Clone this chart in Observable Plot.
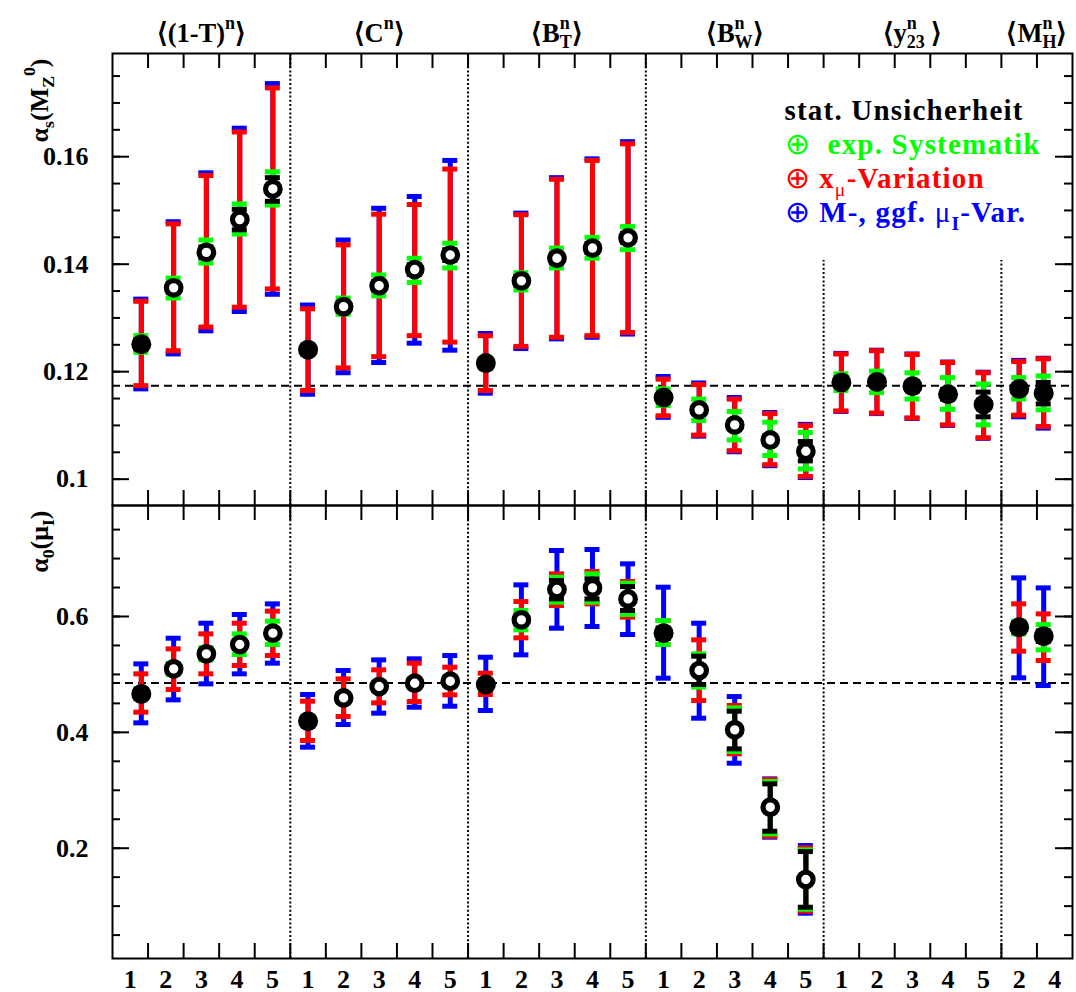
<!DOCTYPE html>
<html><head><meta charset="utf-8">
<script src="https://cdn.jsdelivr.net/npm/d3@7"></script>
<script src="https://cdn.jsdelivr.net/npm/@observablehq/plot@0.6"></script>
<style>
body { margin: 0; background: #fff; }
#chart svg { display: block; }
</style></head>
<body><div id="chart"></div>
<script>
// ---------------- data ----------------
const groupLabels = ["⟨(1-T)^{n}⟩", "⟨C^{n}⟩", "⟨B_{T}~^{n}⟩", "⟨B_{W}~^{n}⟩", "⟨y_{23}~^{n} ⟩", "⟨M_{H}~^{n}⟩"];
const groupMoments = [[1,2,3,4,5],[1,2,3,4,5],[1,2,3,4,5],[1,2,3,4,5],[1,2,3,4,5],[2,4]];
// horizontal offset of each point from its bin centre (in bins)
const pointShift = [0.31,0.22,0.14,0.08,0.01, 0,0,0,0,0, 0,0,0,0,0, 0,0,0,0,0, 0,0,0,0,0, 0,-0.31];

// upper panel: alpha_s(M_Z0)
const topValue = [0.1251,0.1356,0.1422,0.1483,0.1540, 0.1241,0.1321,0.1360,0.1390,0.1417, 0.1216,0.1369,0.1411,0.1430,0.1449, 0.1152,0.1129,0.1101,0.1073,0.1052, 0.1180,0.1181,0.1173,0.1158,0.1139, 0.1168,0.1160];
const topFilled = [1,0,0,0,0, 1,0,0,0,0, 1,0,0,0,0, 1,0,0,0,0, 1,1,1,1,1, 1,1];
const topStat = [[0.1243,0.1259],[0.1348,0.1364],[0.1412,0.1432],[0.1464,0.1502],[0.1517,0.1561], [0.1235,0.1247],[0.1313,0.1329],[0.1352,0.1368],[0.1381,0.1399],[0.1407,0.1427], [0.1210,0.1222],[0.1361,0.1377],[0.1403,0.1419],[0.1422,0.1438],[0.1441,0.1457], [0.1147,0.1157],[0.1123,0.1135],[0.1094,0.1108],[0.1065,0.1081],[0.1034,0.1070], [0.1175,0.1185],[0.1176,0.1186],[0.1167,0.1179],[0.1149,0.1167],[0.1116,0.1162], [0.1163,0.1173],[0.1140,0.1180]];
const topExp = [[0.1236,0.1267],[0.1337,0.1374],[0.1402,0.1445],[0.1456,0.1512],[0.1510,0.1572], [0.1233,0.1249],[0.1307,0.1337],[0.1341,0.1380],[0.1366,0.1411],[0.1393,0.1439], [0.1208,0.1224],[0.1352,0.1384],[0.1393,0.1430],[0.1411,0.1450],[0.1427,0.1470], [0.1137,0.1168],[0.1109,0.1149],[0.1073,0.1126],[0.1044,0.1106],[0.1019,0.1087], [0.1165,0.1196],[0.1161,0.1201],[0.1149,0.1198],[0.1130,0.1189],[0.1101,0.1177], [0.1149,0.1189],[0.1129,0.1192]];
const topXmu = [[0.1174,0.1331],[0.1239,0.1475],[0.1283,0.1565],[0.1320,0.1646],[0.1354,0.1728], [0.1165,0.1317],[0.1207,0.1436],[0.1228,0.1493],[0.1267,0.1511],[0.1255,0.1577], [0.1165,0.1267],[0.1247,0.1492],[0.1264,0.1558],[0.1267,0.1593],[0.1273,0.1624], [0.1118,0.1186],[0.1082,0.1176],[0.1053,0.1149],[0.1027,0.1122],[0.1005,0.1100], [0.1127,0.1233],[0.1123,0.1239],[0.1114,0.1232],[0.1101,0.1217],[0.1077,0.1198], [0.1119,0.1219],[0.1098,0.1224]];
const topMvar = [[0.1168,0.1335],[0.1233,0.1479],[0.1276,0.1570],[0.1312,0.1653],[0.1344,0.1736], [0.1158,0.1324],[0.1198,0.1445],[0.1217,0.1504],[0.1253,0.1526],[0.1240,0.1593], [0.1160,0.1271],[0.1243,0.1495],[0.1261,0.1561],[0.1264,0.1596],[0.1270,0.1628], [0.1115,0.1191],[0.1080,0.1179],[0.1051,0.1152],[0.1025,0.1124],[0.1003,0.1102], [0.1126,0.1234],[0.1122,0.1240],[0.1113,0.1233],[0.1100,0.1218],[0.1076,0.1199], [0.1116,0.1221],[0.1095,0.1225]];
const topRef = 0.1174;
const topDomain = [0.0951, 0.1792];
const topMajor = [0.10, 0.12, 0.14, 0.16];
const topMajorLabels = ["0.1", "0.12", "0.14", "0.16"];
const topMinor = [0.100,0.105,0.110,0.115,0.120,0.125,0.130,0.135,0.140,0.145,0.150,0.155,0.160,0.165,0.170,0.175];

// lower panel: alpha_0(mu_I)
const botValue = [0.4664,0.5096,0.5355,0.5516,0.5712, 0.4193,0.4595,0.4791,0.4848,0.4883, 0.4826,0.5942,0.6466,0.6494,0.6304, 0.5712,0.5067,0.4043,0.2708,0.1459, null,null,null,null,null, 0.5815,0.5660];
const botFilled = [1,0,0,0,0, 1,0,0,0,0, 1,0,0,0,0, 1,0,0,0,0, 0,0,0,0,0, 1,1];
const botStat = [[0.460,0.473],[0.503,0.516],[0.529,0.542],[0.545,0.558],[0.564,0.578], [0.414,0.425],[0.454,0.465],[0.474,0.484],[0.480,0.490],[0.483,0.494], [0.477,0.488],[0.587,0.601],[0.6304,0.6621],[0.6304,0.6650],[0.6103,0.6517], [0.562,0.580],[0.4826,0.5315],[0.3715,0.4365],[0.2293,0.3111],[0.0981,0.1942], null,null,null,null,null, [0.575,0.588],[0.557,0.575]];
const botExp = [[0.458,0.475],[0.500,0.519],[0.525,0.546],[0.5343,0.5700],[0.5516,0.5919], [0.413,0.426],[0.452,0.467],[0.472,0.486],[0.478,0.492],[0.481,0.496], [0.474,0.491],[0.5769,0.6103],[0.6247,0.6678],[0.6247,0.6736],[0.6034,0.6575], [0.5516,0.5930],[0.4780,0.5355],[0.3669,0.4423],[0.2247,0.3151],[0.0947,0.1971], null,null,null,null,null, [0.570,0.5919],[0.5424,0.5861]];
const botXmu = [[0.4348,0.5010],[0.4739,0.5441],[0.5010,0.5700],[0.5154,0.5884],[0.5326,0.6092], [0.3859,0.4538],[0.4273,0.4923],[0.4509,0.5079],[0.4532,0.5194],[0.4647,0.5125], [0.4653,0.5021],[0.5631,0.6258],[0.6189,0.6736],[0.6218,0.6776],[0.5988,0.6604], [0.5516,0.5930],[0.4549,0.5597],[0.3629,0.4463],[0.2207,0.3185],[0.0912,0.2006], null,null,null,null,null, [0.5401,0.6218],[0.5240,0.6045]];
const botMvar = [[0.4164,0.5182],[0.4561,0.5625],[0.4837,0.5884],[0.5010,0.6034],[0.5194,0.6218], [0.3744,0.4653],[0.4135,0.5067],[0.4331,0.5251],[0.4434,0.5269],[0.4451,0.5326], [0.4377,0.5297],[0.5338,0.6546],[0.5798,0.7139],[0.5827,0.7156],[0.5689,0.6909], [0.4935,0.6506],[0.4244,0.5884],[0.3467,0.4618],[0.2190,0.3197],[0.0878,0.2046], null,null,null,null,null, [0.4941,0.6667],[0.4808,0.6494]];
const botRef = 0.485;
const botDomain = [0.0096, 0.7916];
const botMajor = [0.2, 0.4, 0.6];
const botMajorLabels = ["0.2", "0.4", "0.6"];
const botMinor = [0.05,0.10,0.15,0.20,0.25,0.30,0.35,0.40,0.45,0.50,0.55,0.60,0.65,0.70,0.75];

const legendLines = ["stat. Unsicherheit", "!{⊕}  exp. Systematik", "!{⊕} x_!{μ}-Variation", "!{⊕} M-, ggf. !{μ}_{I}-Var."];
const legendColors = ["#000000", "#00ff00", "#ff0000", "#0000ff"];
const topTitle = "α_{s}(M_{Z}^{0})";
const botTitle = "α_{0}(μ_{I})";
const legendBottom = 0.1407; // dividers under the legend box stop here

// ---------------- layout ----------------
const W = 1076, ML = 112, MR = 4;
const FONT = "'Liberation Serif', 'Times New Roman', Times, serif";
const slots = [];
groupMoments.forEach((ms, g) => ms.forEach(n => slots.push({slot: slots.length, group: g, n})));
const nSlots = slots.length;
const slotPx = (W - ML - MR) / nSlots;
const groupEdges = []; let acc = 0;
groupMoments.forEach(ms => { acc += ms.length; groupEdges.push(acc); });
const dividers = groupEdges.slice(0, -1);
const groupCenters = groupMoments.map((ms, g) => (groupEdges[g] - ms.length / 2));
const boundaries = d3.range(1, nSlots);
const capHalf = 7.5 / slotPx;
const legendX = 18.9;

const comps = [
  {key: "mvar", color: "#0000ff"},
  {key: "xmu", color: "#ff0000"},
  {key: "exp", color: "#00ff00"},
  {key: "stat", color: "#000000"}
];

function panel(o) {
  const rows = slots.map((d, i) => ({
    x: d.slot + 0.5 + pointShift[i], v: o.value[i], filled: o.filled[i],
    stat: o.stat[i], exp: o.exp[i], xmu: o.xmu[i], mvar: o.mvar[i]
  })).filter(d => d.v != null);
  const frameH = o.height - o.marginTop - o.marginBottom;
  const perPx = (o.domain[1] - o.domain[0]) / frameH;
  const tickLen = 15 * perPx;
  const majLen = 17 / slotPx, minLen = 8 / slotPx;
  const marks = [];
  marks.push(Plot.ruleX(dividers, {
    x: d => d, y1: o.domain[0],
    y2: d => (o.legend && d > legendX) ? legendBottom : o.domain[1],
    stroke: "black", strokeWidth: 2, strokeDasharray: "2,2.2"
  }));
  marks.push(Plot.ruleY([o.ref], {y: d => d, stroke: "black", strokeWidth: 2, strokeDasharray: "8,5"}));
  marks.push(Plot.ruleX(boundaries, {x: d => d, y1: o.domain[1] - tickLen, y2: o.domain[1], stroke: "black", strokeWidth: 2}));
  marks.push(Plot.ruleX(boundaries, {x: d => d, y1: o.domain[0], y2: o.domain[0] + tickLen, stroke: "black", strokeWidth: 2}));
  marks.push(Plot.ruleY(o.minor, {y: d => d, x1: 0, x2: minLen, stroke: "black", strokeWidth: 2}));
  marks.push(Plot.ruleY(o.major, {y: d => d, x1: 0, x2: majLen, stroke: "black", strokeWidth: 2}));
  marks.push(Plot.ruleY(o.minor, {y: d => d, x1: nSlots - minLen, x2: nSlots, stroke: "black", strokeWidth: 2}));
  marks.push(Plot.ruleY(o.major, {y: d => d, x1: nSlots - majLen, x2: nSlots, stroke: "black", strokeWidth: 2}));
  for (const c of comps) {
    marks.push(Plot.ruleX(rows, {x: "x", y1: d => d[c.key][0], y2: d => d[c.key][1], stroke: c.color, strokeWidth: 5}));
    marks.push(Plot.ruleY(rows, {y: d => d[c.key][0], x1: d => d.x - capHalf, x2: d => d.x + capHalf, stroke: c.color, strokeWidth: 5}));
    marks.push(Plot.ruleY(rows, {y: d => d[c.key][1], x1: d => d.x - capHalf, x2: d => d.x + capHalf, stroke: c.color, strokeWidth: 5}));
  }
  marks.push(Plot.dot(rows.filter(d => d.filled), {x: "x", y: "v", r: 10, fill: "black", stroke: "none"}));
  marks.push(Plot.dot(rows.filter(d => !d.filled), {x: "x", y: "v", r: 7.3, fill: "white", stroke: "black", strokeWidth: 5.2}));
  marks.push(Plot.frame({stroke: "black", strokeWidth: 2}));
  marks.push(Plot.text(o.major, {y: d => d, text: (d, i) => o.majorLabels[i], frameAnchor: "left", dx: -24, textAnchor: "end", fontSize: 26}));
  marks.push(Plot.text([o.title], {text: d => d, frameAnchor: "top-left", rotate: -90, textAnchor: "end", lineAnchor: "bottom", dx: -65, dy: 5, fontSize: 26}));
  if (o.categories) {
    marks.push(Plot.text(groupLabels, {x: (d, i) => groupCenters[i], text: d => d, frameAnchor: "top", dy: -12, lineAnchor: "bottom", fontSize: 26.5}));
  }
  if (o.moments) {
    marks.push(Plot.text(slots, {x: d => d.slot + 0.5, text: d => String(d.n), frameAnchor: "bottom", dy: 29, lineAnchor: "bottom", fontSize: 26}));
  }
  if (o.legend) {
    legendLines.forEach((t, i) => marks.push(Plot.text([t], {text: d => d, frameAnchor: "top-left", dx: 672, dy: 66 + i * 34.3, textAnchor: "start", lineAnchor: "bottom", fill: legendColors[i], fontSize: 29})));
  }
  return Plot.plot({
    width: W, height: o.height,
    marginLeft: ML, marginRight: MR, marginTop: o.marginTop, marginBottom: o.marginBottom,
    x: {domain: [0, nSlots], axis: null},
    y: {domain: o.domain, axis: null},
    style: {fontFamily: FONT, fontWeight: "bold", background: "white", overflow: "visible"},
    marks
  });
}

function parseRich(s) {
  const segs = []; let buf = ""; let i = 0;
  const flush = () => { if (buf) { segs.push({t: buf, kind: ""}); buf = ""; } };
  while (i < s.length) {
    const m = s.slice(i).match(/^(~\^|_!|\^!|\^|_|!)\{([^}]*)\}/);
    if (m) { flush(); segs.push({t: m[2], kind: m[1]}); i += m[0].length; }
    else { buf += s[i]; i++; }
  }
  flush();
  return segs;
}
function richify(el) {
  const s = el.textContent;
  if (legendLines.includes(s)) el.setAttribute("letter-spacing", "1.2");
  if (!/[\^_!]\{/.test(s)) return;
  const size = parseFloat(getComputedStyle(el).fontSize) || 25;
  const segs = parseRich(s);
  el.textContent = "";
  let base = 0, prevW = 0, extra = 0;
  for (const seg of segs) {
    const ts = document.createElementNS("http://www.w3.org/2000/svg", "tspan");
    let fs = size, off = 0;
    const sup = seg.kind.includes("^"), sub = seg.kind.startsWith("_");
    if (sup) { fs = size * 0.68; off = -0.48 * size; }
    else if (sub) { fs = size * 0.68; off = 0.26 * size; }
    if (seg.t === "⊕") fs = size * 1.05;
    ts.setAttribute("font-size", fs);
    ts.setAttribute("dy", off - base); base = off;
    let dx = 0;
    if (seg.kind === "~^") dx = -prevW; else { dx = extra; extra = 0; }
    if (dx) ts.setAttribute("dx", dx);
    if (seg.kind.includes("!")) ts.setAttribute("font-weight", "normal");
    ts.textContent = seg.t;
    el.appendChild(ts);
    const w = ts.getComputedTextLength();
    if (seg.kind === "~^") extra = Math.max(0, prevW - w);
    prevW = w;
  }
}

const topPlot = panel({
  value: topValue, filled: topFilled, stat: topStat, exp: topExp, xmu: topXmu, mvar: topMvar,
  ref: topRef, domain: topDomain, major: topMajor, majorLabels: topMajorLabels, minor: topMinor,
  height: 505, marginTop: 53, marginBottom: 0, title: topTitle, categories: true, legend: true
});
const botPlot = panel({
  value: botValue, filled: botFilled, stat: botStat, exp: botExp, xmu: botXmu, mvar: botMvar,
  ref: botRef, domain: botDomain, major: botMajor, majorLabels: botMajorLabels, minor: botMinor,
  height: 487, marginTop: 0, marginBottom: 34, title: botTitle, moments: true
});
const chart = document.getElementById("chart");
chart.appendChild(topPlot);
chart.appendChild(botPlot);
for (const svg of [topPlot, botPlot]) svg.querySelectorAll("text").forEach(richify);
</script>
</body></html>
